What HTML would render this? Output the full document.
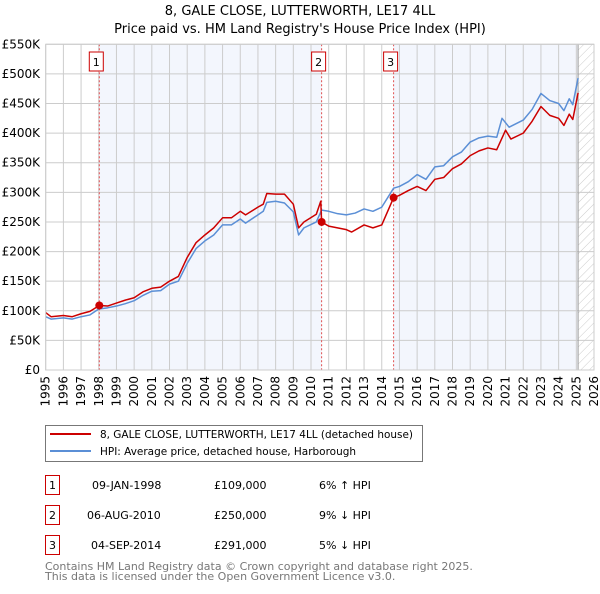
<!DOCTYPE html>
<html><head><meta charset="utf-8"><style>
body{margin:0;background:#fff;width:600px;height:590px;overflow:hidden;font-family:"DejaVu Sans","Liberation Sans",sans-serif}
svg text{font-family:"DejaVu Sans","Liberation Sans",sans-serif}
</style></head><body>
<svg id="c" width="600" height="590"></svg>
<script>
const redYears=[1995,1995.3,1996,1996.5,1997,1997.5,1998.03,1998.5,1999,1999.5,2000,2000.5,2001,2001.5,2002,2002.5,2003,2003.5,2004,2004.5,2005,2005.5,2006,2006.3,2007,2007.3,2007.5,2008,2008.5,2009,2009.3,2009.6,2010.3,2010.55,2010.6,2011,2011.5,2012,2012.3,2013,2013.5,2014,2014.67,2015,2015.5,2016,2016.5,2017,2017.5,2018,2018.5,2019,2019.5,2020,2020.5,2021,2021.3,2022,2022.5,2023,2023.5,2024,2024.3,2024.6,2024.8,2025.1];
const redValues=[97,90,92,90,95,99,109,108,113,118,122,132,138,140,150,158,190,215,228,240,257,257,268,262,275,280,298,297,297,280,240,250,263,285,250,243,240,237,233,245,240,245,291,295,303,310,303,322,325,340,348,362,370,375,372,405,390,400,420,445,430,425,413,432,423,468];
const blueYears=[1995,1995.3,1996,1996.5,1997,1997.5,1998,1998.5,1999,1999.5,2000,2000.5,2001,2001.5,2002,2002.5,2003,2003.5,2004,2004.5,2005,2005.5,2006,2006.3,2007,2007.3,2007.5,2008,2008.5,2009,2009.3,2009.6,2010.3,2010.6,2011,2011.5,2012,2012.5,2013,2013.5,2014,2014.67,2015,2015.5,2016,2016.5,2017,2017.5,2018,2018.5,2019,2019.5,2020,2020.5,2020.8,2021.2,2022,2022.5,2023,2023.5,2024,2024.3,2024.6,2024.8,2025.1];
const blueValues=[90,86,88,86,90,93,103,105,108,112,117,126,133,134,145,150,180,205,218,228,245,245,255,248,262,268,283,285,282,267,228,240,250,270,268,264,262,265,272,268,275,307,310,318,330,322,343,345,360,368,385,392,395,393,425,410,422,440,467,455,450,438,458,448,493];
const saleYears=[1998.03,2010.6,2014.67];
const saleValues=[109,250,291];
const saleLabels=["1","2","3"];
const yTicks=[0,50,100,150,200,250,300,350,400,450,500,550];
const yTickLabels=["£0","£50K","£100K","£150K","£200K","£250K","£300K","£350K","£400K","£450K","£500K","£550K"];
const xTicks=[];for(let y=1995;y<=2026;y++)xTicks.push(y);

const NS="http://www.w3.org/2000/svg",svg=document.getElementById('c');
const X0=45.7,X1=594,Y0=370,Y1=44.3;
const x=v=>X0+(v-1995)*(X1-X0)/31;
const y=v=>Y0-v*(Y0-Y1)/550;
function el(t,a,p){const e=document.createElementNS(NS,t);for(const k in a)e.setAttribute(k,a[k]);(p||svg).appendChild(e);return e;}
const defs=el('defs',{});
const pat=el('pattern',{id:'h',width:6,height:6,patternUnits:'userSpaceOnUse',patternTransform:'rotate(45)'},defs);
el('line',{x1:0,y1:0,x2:0,y2:6,stroke:'#ccc','stroke-width':1},pat);
let b=el('rect',{x:x(saleYears[0]),y:Y1,width:x(saleYears[1])-x(saleYears[0]),height:Y0-Y1,fill:'#f3f6fd'});

b=el('rect',{x:x(saleYears[2]),y:Y1,width:x(2025.1)-x(saleYears[2]),height:Y0-Y1,fill:'#f3f6fd'});

b=el('rect',{x:x(2025.1),y:Y1,width:X1-x(2025.1),height:Y0-Y1,fill:'url(#h)'});

xTicks.forEach(t=>{const l=el('line',{x1:x(t),x2:x(t),y1:Y1,y2:Y0,stroke:'#ccc'});
 const tx=el('text',{x:0,y:0,'font-size':12,fill:'#000','text-anchor':'end','dominant-baseline':'central',transform:`translate(${x(t)},${Y0+6}) rotate(-90)`});tx.textContent=t;});
yTicks.forEach((t,i)=>{const l=el('line',{x1:X0,x2:X1,y1:y(t),y2:y(t),stroke:'#ccc'});
 const tx=el('text',{x:40,y:y(t)+4,'font-size':12,fill:'#000','text-anchor':'end'});tx.textContent=yTickLabels[i];});
const vl=el('line',{x1:x(2025.1),x2:x(2025.1),y1:Y1,y2:Y0,stroke:'#999'});
saleYears.forEach((s,i)=>{const l=el('line',{x1:x(s),x2:x(s),y1:Y1,y2:Y0,stroke:'#e05050','stroke-dasharray':'2,2'});
 const r=el('rect',{x:x(s)-10,y:52,width:14,height:19,fill:'#fff',stroke:'#c00'});
 
 const t=el('text',{x:x(s)-3,y:66,'font-size':11,'text-anchor':'middle'});t.textContent=saleLabels[i];});
function line(xs,vs,c,n){const p=el('polyline',{points:xs.map((t,i)=>x(t)+','+y(vs[i])).join(' '),fill:'none',stroke:c,'stroke-width':1.5,'stroke-linejoin':'round'});}
line(blueYears,blueValues,'#5b8fd6','hpi-line');
line(redYears,redValues,'#cc0000','price-paid-line');
saleYears.forEach((s,i)=>{const c=el('circle',{cx:x(s),cy:y(saleValues[i]),r:4,fill:'#cc0000'});});
const fr=el('rect',{x:X0,y:Y1,width:X1-X0,height:Y0-Y1,fill:'none',stroke:'#ccc'});
</script>
<svg style="position:absolute;left:0;top:0" width="600" height="590">
<text x="300" y="15" font-size="13" text-anchor="middle">8, GALE CLOSE, LUTTERWORTH, LE17 4LL</text>
<text x="300" y="33" font-size="13" text-anchor="middle">Price paid vs. HM Land Registry's House Price Index (HPI)</text>
<g>
<rect x="45.5" y="425.5" width="377" height="36" fill="#fff" stroke="#777"/>
<line x1="50" y1="434" x2="91" y2="434" stroke="#cc0000" stroke-width="2"/>
<text x="100" y="438" font-size="11" textLength="313" lengthAdjust="spacingAndGlyphs">8, GALE CLOSE, LUTTERWORTH, LE17 4LL (detached house)</text>
<line x1="50" y1="451" x2="91" y2="451" stroke="#5b8fd6" stroke-width="2"/>
<text x="100" y="455" font-size="11" textLength="256" lengthAdjust="spacingAndGlyphs">HPI: Average price, detached house, Harborough</text>
</g>
<g font-size="11">
<rect x="45.5" y="475.5" width="14" height="19" fill="#fff" stroke="#c00"/><text x="52.5" y="489" text-anchor="middle">1</text>
<text x="92" y="489">09-JAN-1998</text><text x="214" y="489">£109,000</text><text x="319" y="489">6% ↑ HPI</text>
<rect x="45.5" y="505.5" width="14" height="19" fill="#fff" stroke="#c00"/><text x="52.5" y="519" text-anchor="middle">2</text>
<text x="87" y="519">06-AUG-2010</text><text x="214" y="519">£250,000</text><text x="319" y="519">9% ↓ HPI</text>
<rect x="45.5" y="535.5" width="14" height="19" fill="#fff" stroke="#c00"/><text x="52.5" y="549" text-anchor="middle">3</text>
<text x="91" y="549">04-SEP-2014</text><text x="214" y="549">£291,000</text><text x="319" y="549">5% ↓ HPI</text>
</g>
<text x="45" y="570" font-size="11" fill="#777">Contains HM Land Registry data © Crown copyright and database right 2025.</text>
<text x="45" y="580" font-size="11" fill="#777">This data is licensed under the Open Government Licence v3.0.</text>
</svg>
</body></html>
